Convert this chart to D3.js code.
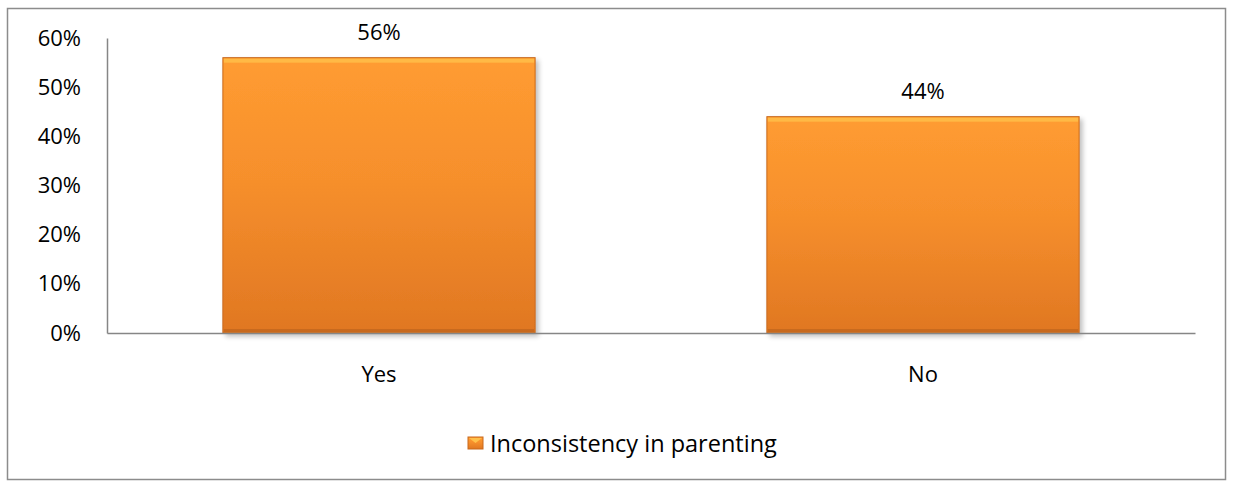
<!DOCTYPE html>
<html><head><meta charset="utf-8">
<script src="https://cdn.jsdelivr.net/npm/d3@7"></script>
<style>body{margin:0;background:#fff}svg{display:block}</style>
</head><body>
<script>
const categories = ["Yes", "No"];
const values = [0.56, 0.44];
const yTicks = [0, 0.1, 0.2, 0.3, 0.4, 0.5, 0.6];
const seriesName = "Inconsistency in parenting";

const W = 1233, H = 482;
const svg = d3.select("body").append("svg").attr("width", W).attr("height", H);
const font = "'Open Sans', sans-serif";
const fs = 22;

svg.append("rect").attr("x", 7.5).attr("y", 8.5).attr("width", 1218).attr("height", 471)
  .attr("fill", "#fff").attr("stroke", "#8c8c8c").attr("stroke-width", 1.5);

const defs = svg.append("defs");
const g1 = defs.append("linearGradient").attr("id", "barGrad").attr("x1", 0).attr("y1", 0).attr("x2", 0).attr("y2", 1);
g1.append("stop").attr("offset", "0%").attr("stop-color", "#FF9C31");
g1.append("stop").attr("offset", "45%").attr("stop-color", "#F68F2C");
g1.append("stop").attr("offset", "100%").attr("stop-color", "#E07722");
const f = defs.append("filter").attr("id", "sh").attr("x", "-5%").attr("y", "-5%").attr("width", "115%").attr("height", "115%");
f.append("feGaussianBlur").attr("in", "SourceAlpha").attr("stdDeviation", 2.5);
f.append("feOffset").attr("dx", 3).attr("dy", 3).attr("result", "b");
f.append("feComponentTransfer").append("feFuncA").attr("type", "linear").attr("slope", 0.25);
const m = f.append("feMerge"); m.append("feMergeNode"); m.append("feMergeNode").attr("in", "SourceGraphic");

const x0 = 107, x1 = 1195, yTop = 38, yBot = 333;
const x = d3.scaleBand().domain(categories).range([x0, x1]).padding(0);
const y = d3.scaleLinear().domain([0, 0.6]).range([yBot, yTop]);
const bw = x.bandwidth() * 0.574;

// y axis
const ya = svg.append("g").attr("transform", `translate(${x0},0)`)
  .call(d3.axisLeft(y).tickValues(yTicks).tickFormat(d3.format(".0%")).tickSize(0).tickPadding(26));
ya.select(".domain").attr("stroke", "#868686").attr("stroke-width", 1.5);
ya.selectAll("text").attr("font-family", font).attr("font-size", fs).attr("fill", "#000");

// bars
const bars = svg.append("g").selectAll("g").data(values).join("g");
bars.append("rect")
  .attr("x", (d, i) => x(categories[i]) + x.bandwidth() / 2 - bw / 2)
  .attr("y", d => y(d)).attr("width", bw).attr("height", d => yBot - y(d))
  .attr("fill", "url(#barGrad)").attr("stroke", "#C8681C").attr("stroke-width", 1)
  .attr("filter", "url(#sh)");
bars.append("rect")
  .attr("x", (d, i) => x(categories[i]) + x.bandwidth() / 2 - bw / 2 + 1)
  .attr("y", d => y(d) + 1).attr("width", bw - 2).attr("height", 4)
  .attr("fill", "#FFC04A").attr("opacity", 0.8);
bars.append("rect")
  .attr("x", (d, i) => x(categories[i]) + x.bandwidth() / 2 - bw / 2 + 1)
  .attr("y", d => yBot - 4).attr("width", bw - 2).attr("height", 3)
  .attr("fill", "#B8611C").attr("opacity", 0.6);

// x axis
const xa = svg.append("g").attr("transform", `translate(0,${yBot})`)
  .call(d3.axisBottom(x).tickSize(0).tickPadding(33));
xa.select(".domain").attr("stroke", "#868686").attr("stroke-width", 1.5);
xa.selectAll("text").attr("font-family", font).attr("font-size", fs).attr("fill", "#000");

// value labels
svg.append("g").selectAll("text").data(values).join("text")
  .attr("x", (d, i) => x(categories[i]) + x.bandwidth() / 2)
  .attr("y", d => y(d) - 18).attr("text-anchor", "middle")
  .attr("font-family", font).attr("font-size", fs).attr("fill", "#000")
  .text(d => d3.format(".0%")(d));

// legend
const lg = svg.append("g").attr("transform", "translate(468,437)");
lg.append("rect").attr("width", 15).attr("height", 12).attr("fill", "url(#barGrad)").attr("stroke", "#C8681C");
lg.append("path").attr("d", "M1,1 L7.5,6 L14,1 Z").attr("fill", "#FFC04A");
lg.append("text").attr("x", 22).attr("y", 15).attr("font-family", font).attr("font-size", 23.5).attr("fill", "#000").text(seriesName);
</script>
</body></html>
